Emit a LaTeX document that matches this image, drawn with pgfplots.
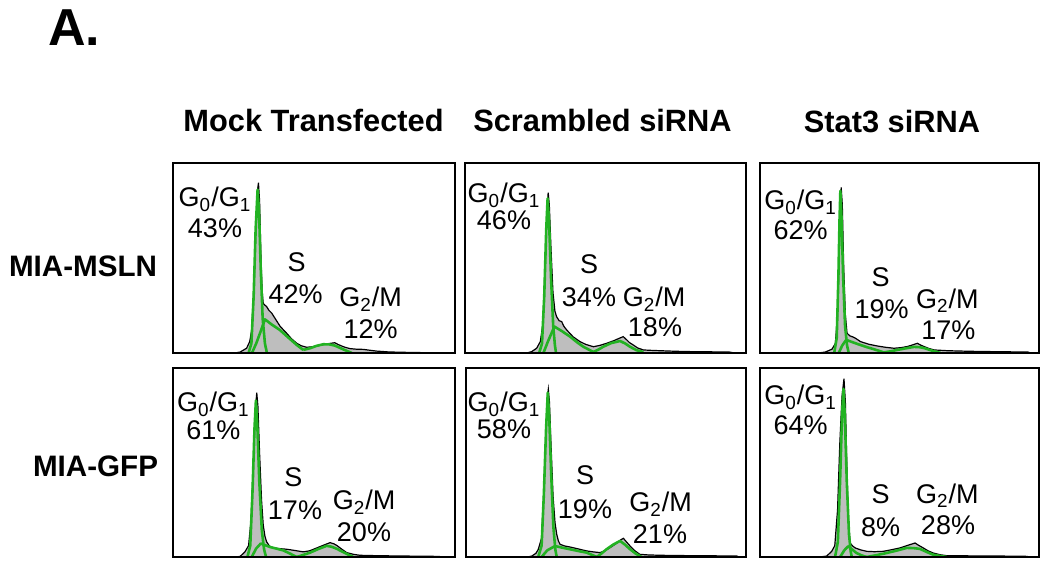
\documentclass[border=0pt]{standalone}
\usepackage{fontspec}
\setmainfont{Liberation Sans}
\usepackage{pgfplots}
\pgfplotsset{compat=1.18}
\definecolor{histgray}{RGB}{190,190,190}
\definecolor{fitgreen}{RGB}{34,178,34}
\newcommand{\lab}{\fontsize{13.5}{16}\selectfont}
\newcommand{\ttl}{\fontsize{15.4}{18}\selectfont\bfseries}
\newcommand{\rowl}{\fontsize{14.8}{17}\selectfont\bfseries}
\newcommand{\Gone}{G\textsubscript{0}/G\textsubscript{1}}
\newcommand{\Gtwo}{G\textsubscript{2}/M}
\pgfplotsset{
  panel/.style={scale only axis, anchor=south west, xmin=0, xmax=100, ymin=0, ymax=100,
    ticks=none, axis line style={line width=1pt, black}, axis on top, clip=true},
  hist/.style={draw=black, line width=0.6pt, fill=histgray},
  fit/.style={draw=fitgreen, line width=1.3pt, line join=round}
}
\begin{document}
\begin{tikzpicture}[every node/.style={inner sep=0pt, outer sep=0pt}]
\useasboundingbox (0,0) rectangle (525pt,283pt);

% ---------- Row 1: MIA-MSLN ----------
\begin{axis}[panel, at={(86.5pt,106.5pt)}, width=141pt, height=95pt]
\addplot[hist] coordinates {(0,0) (22,0) (23.8,0.5) (26.1,2.5) (27.2,6) (27.9,12) (28.7,35) (29.5,70) (30.0,86) (30.3,89.6) (30.7,80) (31.2,50) (31.6,33) (32,26) (33.2,24.4) (34,22.5) (35,21) (36.2,18.2) (38,14) (40.3,10.4) (42,7.5) (43.9,5.1) (45.5,3.8) (47.4,3) (49.5,3.3) (52.1,4) (54.5,4.8) (57.4,5.4) (58.5,4.5) (59.8,3.7) (61,3) (62.8,2.3) (65,2) (67.5,1.9) (70,1.4) (72.2,1) (76,0.6) (80,0.4) (88,0.2) (92,0) (100,0)} \closedcycle;
\addplot[fit] coordinates {(26.8,0) (27.8,5) (28.6,30) (29.3,65) (30.0,86) (30.5,75) (31.1,45) (31.8,18) (32.6,5) (33.3,0)};
\addplot[fit] coordinates {(28,0) (29.5,5) (31,11) (32.6,17.7) (35,15) (37.9,12.1) (41,8) (43.9,4.2) (46.2,1.6)};
\addplot[fit] coordinates {(46.2,1.6) (48.6,2.5) (51,3.8) (53.3,4.6) (55.5,4.5) (57.4,3.9) (60.4,1.9) (63.4,0)};
\end{axis}

\begin{axis}[panel, at={(232.5pt,106.5pt)}, width=140.5pt, height=95pt]
\addplot[hist] coordinates {(0,0) (22,0) (23.7,0.7) (25.5,2.5) (26.8,6) (27.7,15) (28.5,45) (29.2,75) (29.6,84.4) (30,78) (30.6,55) (31.3,32) (32,22) (32.6,19.1) (33.5,17) (34.4,16.5) (35.2,14) (36.2,12.1) (38.5,8.5) (40.9,6) (43,4.5) (45.7,3.3) (48,4) (50.4,5.1) (53,6.5) (55,7.8) (56.3,8.6) (57.5,7) (58.5,5.5) (59.9,4.2) (61.5,2.6) (63.5,1.6) (66,1.4) (69.4,1.2) (75,0.9) (81,0.7) (88,0.6) (94,0.5) (96,0) (100,0)} \closedcycle;
\addplot[fit] coordinates {(26.4,0) (27.4,5) (28.2,30) (28.9,65) (29.4,81.4) (29.9,70) (30.6,40) (31.4,14) (32,4) (32.4,0)};
\addplot[fit] coordinates {(27.9,0) (29.5,6) (31.8,13.9) (34.5,11.5) (37.4,8.6) (40,5.5) (42.1,3.3) (45.7,0.5)};
\addplot[fit] coordinates {(45.7,0.5) (47.5,1.8) (49.2,3.3) (52,5.2) (55.2,6.3) (57,5) (58.7,3.3) (61,1.5) (63.5,0.5)};
\end{axis}

\begin{axis}[panel, at={(380pt,106.5pt)}, width=139.5pt, height=95pt]
\addplot[hist] coordinates {(0,0) (21,0) (23.4,0.5) (25.8,2) (27,5) (27.8,20) (28.4,55) (28.8,80) (29.1,87.1) (29.5,78) (30,45) (30.6,20) (31.2,10.4) (32.2,9) (33.2,8.5) (34.2,7.8) (36,6) (39,4.6) (42,3.7) (45,3) (48,2.5) (50.5,2.8) (52.8,3.4) (54.8,4.3) (56.4,5.1) (57.5,4.2) (58.8,3.4) (60.5,2.4) (62.4,1.6) (67.2,1.2) (75,0.9) (84,0.7) (90,0.6) (96,0.5) (97,0) (100,0)} \closedcycle;
\addplot[fit] coordinates {(26.6,0) (27.5,8) (28.1,40) (28.5,70) (28.8,85.4) (29.2,72) (29.8,40) (30.5,14) (31.2,4) (31.8,0)};
\addplot[fit] coordinates {(28.2,0) (29.5,4) (30.9,6.9) (33.5,5.5) (36,4.2) (38.5,3) (40.8,2) (44.4,0.3)};
\addplot[fit] coordinates {(44.4,0.3) (46.8,0.9) (49.2,1.6) (52,2.4) (55.2,3.2) (57,3.1) (58.8,2.6) (61.5,1.3) (64.7,0)};
\end{axis}

% ---------- Row 2: MIA-GFP ----------
\begin{axis}[panel, at={(86.5pt,4.5pt)}, width=141pt, height=94.5pt]
\addplot[hist] coordinates {(0,0) (22,0) (23.8,0.3) (25.5,2.7) (26.8,6) (27.7,20) (28.5,50) (29.2,78) (29.7,86.9) (30.1,80) (30.7,55) (31.4,30) (32,16.8) (32.6,11) (33.2,8) (34.2,5.8) (35.6,4.8) (38,4.4) (40.3,4.1) (43,3.5) (46.2,2.7) (48.5,3.3) (51,4.8) (53.5,6.3) (55.7,7.6) (57,7) (58,6.2) (59.8,4.2) (61.6,2.3) (64,1.4) (66.3,0.9) (72,0.7) (81.6,0.5) (90,0.4) (94,0.3) (96,0) (100,0)} \closedcycle;
\addplot[fit] coordinates {(26.4,0) (27.4,6) (28.2,35) (28.9,68) (29.4,82.8) (29.9,70) (30.6,40) (31.5,14) (32.3,4) (33,0)};
\addplot[fit] coordinates {(27.9,0) (29.5,4.5) (31.1,7.1) (32.8,6.2) (34.4,5.3) (37,4.3) (39.1,3.5) (41.5,1.8) (43.9,0)};
\addplot[fit] coordinates {(43.9,0) (46.2,1.1) (48.6,2.3) (51.5,4.2) (54.5,5.9) (56.3,5.4) (58,4.4) (61,2.1) (63.9,0)};
\end{axis}

\begin{axis}[panel, at={(233pt,4.5pt)}, width=140pt, height=94.5pt]
\addplot[hist] coordinates {(0,0) (22,0) (23.5,0.5) (25,2) (25.8,4) (27,10) (27.8,35) (28.6,68) (29.1,85) (29.4,88.7) (29.8,82) (30.4,58) (31.1,32) (31.8,18) (32.4,12) (33,8.5) (33.6,6.7) (35.3,5.8) (37.1,5.3) (40,4.3) (43.1,3.2) (45.5,2.7) (47.9,2.3) (49.7,3.4) (51.4,4.9) (53.5,7) (55.2,9) (56.2,9.9) (57.3,8) (58.6,5.8) (60.3,3.3) (62.1,1.4) (65,1.1) (69.3,0.9) (80,0.7) (90,0.6) (96.7,0.5) (97.5,0) (100,0)} \closedcycle;
\addplot[fit] coordinates {(25.8,0) (27,6) (27.8,33) (28.6,68) (29.2,86.9) (29.7,75) (30.4,45) (31.2,16) (31.9,4) (32.4,0)};
\addplot[fit] coordinates {(27,0) (29,3.5) (31.8,5.8) (34.5,4.9) (37.1,4.1) (40,3.2) (43.1,2.3) (46.7,0)};
\addplot[fit] coordinates {(46.7,0) (48.5,2) (50.2,4.1) (52.5,6.5) (55,8.5) (56.8,6.5) (58.6,4.1) (60.6,1.8) (62.7,0)};
\end{axis}

\begin{axis}[panel, at={(380pt,4.5pt)}, width=139.5pt, height=94.5pt]
\addplot[hist] coordinates {(0,0) (21.5,0) (23.9,0.5) (25.7,3) (26.8,6) (27.8,25) (28.6,60) (29.4,85) (30.1,94.3) (30.6,82) (31.1,50) (31.6,22) (32.3,7.4) (33.2,5.8) (34.1,4.8) (36,3.8) (38.2,3) (41,2.8) (44.2,3) (47,3.8) (50.2,4.8) (53,6.2) (55.6,7.4) (56.5,6.5) (58.5,4.8) (60.3,3.2) (62.1,2.1) (64.5,1.2) (66.9,0.7) (75,0.6) (85,0.5) (95,0.4) (97,0) (100,0)} \closedcycle;
\addplot[fit] coordinates {(26.9,0) (27.9,8) (28.7,40) (29.4,75) (29.9,89) (30.4,75) (31.1,40) (31.9,12) (32.5,3) (32.9,0)};
\addplot[fit] coordinates {(28.7,0) (30.2,3.5) (31.6,5.7) (33,4) (34.6,2.1) (36.5,0.8) (38.2,0)};
\addplot[fit] coordinates {(38.2,0) (41.5,0.9) (45.4,2.1) (49,3.4) (52.6,4.8) (55,4.7) (57.3,4.3) (60,2.5) (62.1,1.2) (66.9,0)};
\end{axis}

% ---------- Panel labels ----------
\begin{scope}[every node/.append style={anchor=base, font=\lab}]
% P1
\node at (107.5pt,179.5pt) {\Gone};
\node at (107.5pt,164pt) {43\%};
\node at (148.35pt,147.15pt) {S};
\node at (147.85pt,131.35pt) {42\%};
\node at (185.35pt,129.65pt) {\Gtwo};
\node at (185.35pt,113.85pt) {12\%};
% P2
\node at (252pt,181.65pt) {\Gone};
\node at (252pt,168.35pt) {46\%};
\node at (294.5pt,146.35pt) {S};
\node at (294.5pt,129.65pt) {34\%};
\node at (327pt,129.65pt) {\Gtwo};
\node at (327.5pt,114.65pt) {18\%};
% P3
\node at (400.35pt,178pt) {\Gone};
\node at (400.35pt,163pt) {62\%};
\node at (440.35pt,139.65pt) {S};
\node at (440.85pt,123.85pt) {19\%};
\node at (473.65pt,128.85pt) {\Gtwo};
\node at (474.15pt,113pt) {17\%};
% P4
\node at (106.65pt,77.15pt) {\Gone};
\node at (106.65pt,63pt) {61\%};
\node at (146.65pt,39.65pt) {S};
\node at (147.5pt,23pt) {17\%};
\node at (182pt,28pt) {\Gtwo};
\node at (182pt,12.15pt) {20\%};
% P5
\node at (252pt,77.15pt) {\Gone};
\node at (252pt,63.85pt) {58\%};
\node at (292.5pt,40.5pt) {S};
\node at (292.5pt,23.85pt) {19\%};
\node at (330.35pt,27.15pt) {\Gtwo};
\node at (330pt,11.35pt) {21\%};
% P6
\node at (400.35pt,80.5pt) {\Gone};
\node at (400.35pt,65.5pt) {64\%};
\node at (440.35pt,31.35pt) {S};
\node at (440.35pt,14.65pt) {8\%};
\node at (473.65pt,31.35pt) {\Gtwo};
\node at (474pt,15.5pt) {28\%};
\end{scope}

% ---------- Titles ----------
\node[anchor=base, font=\ttl] at (156.75pt,217pt) {Mock Transfected};
\node[anchor=base, font=\ttl] at (301.25pt,217pt) {Scrambled siRNA};
\node[anchor=base, font=\ttl] at (446pt,216.5pt) {Stat3 siRNA};
\node[anchor=base east, font=\rowl] at (78.5pt,144.5pt) {MIA-MSLN};
\node[anchor=base east, font=\rowl] at (79pt,44.5pt) {MIA-GFP};
\node[anchor=base west, font=\fontsize{26}{30}\selectfont\bfseries] at (24pt,260pt) {A.};
\end{tikzpicture}
\end{document}
